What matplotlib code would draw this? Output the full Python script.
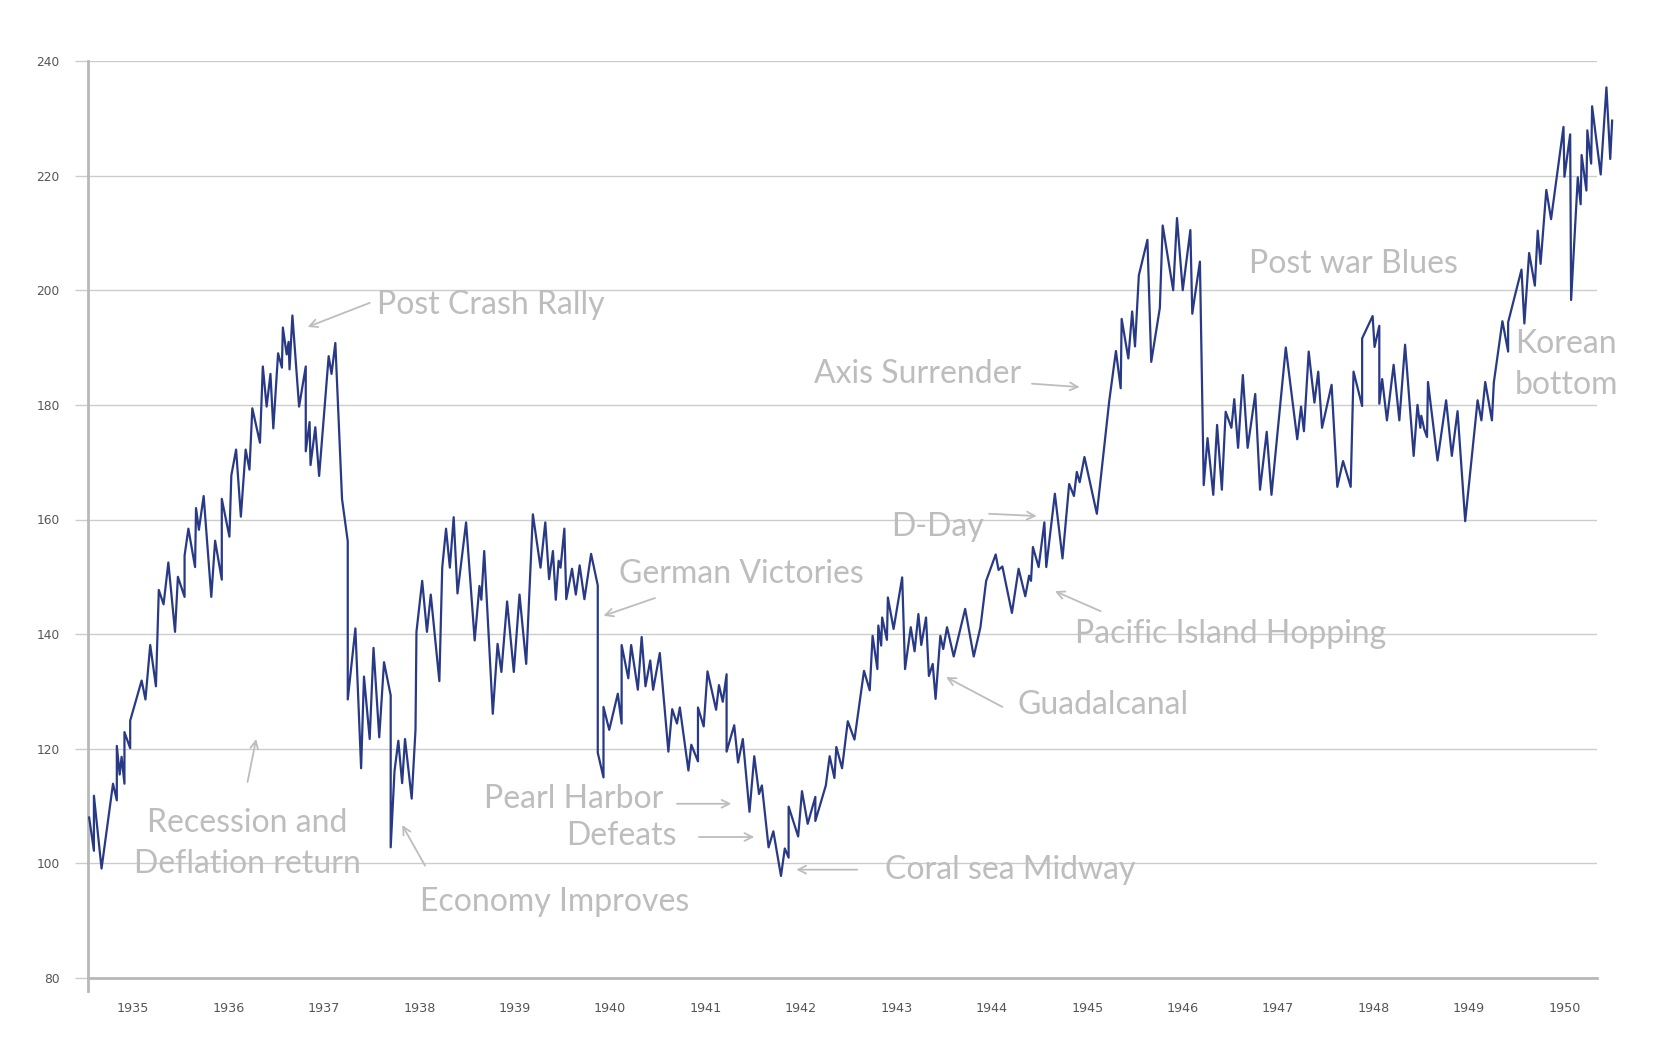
import matplotlib
matplotlib.use("Agg")
import matplotlib.pyplot as plt

# index level (fractional year, value)
dates = [
    1934.54, 1934.59, 1934.59, 1934.67, 1934.79, 1934.83, 1934.83, 1934.86, 1934.88, 1934.91,
    1934.91, 1934.97, 1934.97, 1935.09, 1935.13, 1935.18, 1935.24, 1935.27, 1935.32, 1935.37,
    1935.44, 1935.47, 1935.54, 1935.54, 1935.58, 1935.65, 1935.66, 1935.69, 1935.74, 1935.82,
    1935.86, 1935.93, 1935.93, 1936.01, 1936.03, 1936.08, 1936.13, 1936.18, 1936.22, 1936.25,
    1936.33, 1936.36, 1936.40, 1936.44, 1936.47, 1936.52, 1936.56, 1936.57, 1936.61, 1936.63,
    1936.64, 1936.67, 1936.74, 1936.81, 1936.81, 1936.85, 1936.86, 1936.91, 1936.95, 1937.05,
    1937.08, 1937.12, 1937.19, 1937.25, 1937.25, 1937.33, 1937.39, 1937.42, 1937.48, 1937.52,
    1937.58, 1937.63, 1937.70, 1937.70, 1937.74, 1937.78, 1937.82, 1937.85, 1937.92, 1937.96,
    1937.97, 1938.03, 1938.08, 1938.12, 1938.21, 1938.24, 1938.28, 1938.32, 1938.36, 1938.40,
    1938.49, 1938.58, 1938.63, 1938.65, 1938.68, 1938.77, 1938.82, 1938.86, 1938.92, 1938.99,
    1939.05, 1939.12, 1939.19, 1939.27, 1939.32, 1939.36, 1939.40, 1939.43, 1939.46, 1939.48,
    1939.52, 1939.54, 1939.60, 1939.64, 1939.68, 1939.73, 1939.80, 1939.87, 1939.87, 1939.93,
    1939.93, 1939.99, 1940.08, 1940.12, 1940.12, 1940.19, 1940.22, 1940.29, 1940.33, 1940.37,
    1940.42, 1940.45, 1940.52, 1940.61, 1940.65, 1940.70, 1940.73, 1940.82, 1940.85, 1940.92,
    1940.92, 1940.98, 1941.02, 1941.11, 1941.14, 1941.18, 1941.22, 1941.22, 1941.30, 1941.34,
    1941.39, 1941.46, 1941.51, 1941.56, 1941.59, 1941.66, 1941.71, 1941.79, 1941.83, 1941.87,
    1941.87, 1941.97, 1942.01, 1942.07, 1942.15, 1942.15, 1942.26, 1942.30, 1942.35, 1942.37,
    1942.43, 1942.49, 1942.56, 1942.66, 1942.72, 1942.75, 1942.80, 1942.81, 1942.84, 1942.85,
    1942.90, 1942.91, 1942.97, 1943.06, 1943.09, 1943.15, 1943.19, 1943.23, 1943.26, 1943.31,
    1943.34, 1943.38, 1943.41, 1943.46, 1943.49, 1943.53, 1943.60, 1943.72, 1943.81, 1943.88,
    1943.94, 1944.04, 1944.07, 1944.11, 1944.21, 1944.28, 1944.35, 1944.39, 1944.41, 1944.43,
    1944.49, 1944.55, 1944.57, 1944.66, 1944.74, 1944.81, 1944.86, 1944.89, 1944.92, 1944.97,
    1945.10, 1945.23, 1945.30, 1945.35, 1945.36, 1945.43, 1945.47, 1945.50, 1945.54, 1945.63,
    1945.67, 1945.76, 1945.79, 1945.90, 1945.94, 1946.00, 1946.08, 1946.10, 1946.18, 1946.22,
    1946.26, 1946.32, 1946.36, 1946.41, 1946.45, 1946.51, 1946.54, 1946.58, 1946.63, 1946.68,
    1946.76, 1946.81, 1946.88, 1946.93, 1947.08, 1947.20, 1947.24, 1947.27, 1947.32, 1947.38,
    1947.42, 1947.46, 1947.56, 1947.62, 1947.68, 1947.76, 1947.79, 1947.88, 1947.88, 1947.99,
    1948.01, 1948.06, 1948.06, 1948.09, 1948.14, 1948.21, 1948.27, 1948.33, 1948.42, 1948.46,
    1948.49, 1948.50, 1948.53, 1948.56, 1948.57, 1948.67, 1948.76, 1948.82, 1948.88, 1948.96,
    1949.09, 1949.13, 1949.17, 1949.24, 1949.26, 1949.35, 1949.41, 1949.41, 1949.55, 1949.58,
    1949.63, 1949.69, 1949.72, 1949.75, 1949.81, 1949.86, 1949.99, 1950.00, 1950.06, 1950.07,
    1950.14, 1950.17, 1950.18, 1950.23, 1950.24, 1950.28, 1950.29, 1950.38, 1950.44, 1950.48,
    1950.50,
]
values = [
    108.0, 102.2, 111.8, 99.1, 113.9, 111.0, 120.5, 115.5, 118.6, 113.9,
    122.9, 120.1, 124.9, 131.9, 128.6, 138.1, 130.9, 147.7, 145.2, 152.5,
    140.4, 150.0, 146.5, 153.7, 158.4, 151.7, 162.0, 158.2, 164.1, 146.5,
    156.3, 149.5, 163.6, 157.0, 167.7, 172.2, 160.5, 172.2, 168.7, 179.4,
    173.4, 186.7, 179.7, 185.4, 175.9, 189.0, 186.5, 193.5, 188.8, 191.0,
    186.2, 195.6, 179.7, 186.7, 171.9, 177.0, 169.5, 176.1, 167.6, 188.5,
    185.4, 190.8, 163.6, 156.2, 128.6, 141.0, 116.6, 132.6, 121.7, 137.6,
    122.0, 135.1, 129.3, 102.8, 116.1, 121.4, 114.0, 121.7, 111.3, 123.3,
    140.4, 149.3, 140.4, 146.9, 131.8, 151.6, 158.4, 151.6, 160.4, 147.1,
    159.5, 138.9, 148.4, 146.0, 154.5, 126.1, 138.3, 133.4, 145.7, 133.4,
    146.9, 134.8, 160.9, 151.6, 159.5, 149.6, 154.5, 146.0, 152.8, 151.6,
    158.4, 146.1, 151.4, 146.9, 152.0, 146.1, 154.0, 148.5, 119.3, 115.0,
    127.3, 123.3, 129.6, 124.4, 138.1, 132.3, 138.1, 130.3, 139.5, 130.9,
    135.4, 130.3, 136.7, 119.5, 126.9, 124.4, 127.2, 116.2, 120.7, 117.8,
    127.2, 123.9, 133.5, 126.8, 131.1, 128.2, 133.0, 119.5, 124.1, 117.6,
    121.7, 109.0, 118.7, 112.1, 113.6, 102.8, 105.6, 97.8, 102.6, 101.0,
    109.9, 104.7, 112.6, 106.9, 111.6, 107.4, 113.6, 118.7, 114.9, 120.3,
    116.6, 124.8, 121.6, 133.6, 130.2, 139.7, 133.9, 141.5, 138.0, 142.9,
    139.0, 146.4, 140.9, 149.9, 133.9, 141.2, 137.0, 143.5, 138.1, 142.9,
    132.7, 134.8, 128.7, 139.7, 137.4, 141.2, 136.1, 144.4, 136.1, 141.2,
    149.3, 153.9, 151.2, 151.8, 143.7, 151.4, 146.6, 150.2, 149.3, 155.2,
    151.7, 159.5, 151.7, 164.5, 153.2, 166.2, 164.1, 168.3, 166.5, 170.9,
    161.0, 180.7, 189.4, 182.9, 195.0, 188.1, 196.3, 190.2, 202.6, 208.8,
    187.5, 196.9, 211.3, 200.0, 212.6, 200.0, 210.5, 195.9, 205.0, 166.0,
    174.2, 164.3, 176.5, 165.2, 178.8, 176.0, 181.0, 172.5, 185.2, 172.5,
    181.9, 165.2, 175.3, 164.3, 190.0, 174.0, 179.7, 175.4, 189.3, 180.4,
    185.8, 176.0, 183.5, 165.7, 170.2, 165.7, 185.8, 179.8, 191.6, 195.5,
    190.1, 193.8, 180.2, 184.5, 177.3, 187.0, 177.3, 190.5, 171.1, 180.0,
    176.0, 178.1, 175.8, 174.4, 184.0, 170.3, 180.8, 171.1, 178.9, 159.7,
    180.8, 177.3, 184.0, 177.3, 183.9, 194.6, 189.3, 194.4, 203.6, 194.2,
    206.5, 200.8, 210.4, 204.6, 217.5, 212.4, 228.5, 219.8, 227.2, 198.3,
    219.7, 215.0, 223.6, 217.4, 227.9, 222.1, 232.1, 220.2, 235.4, 222.9,
    229.6,
]
year_ticks = list(range(1935, 1951))
value_ticks = list(range(80, 241, 20))

# (text, x, y, ha, arrow_from, arrow_to)
notes = [
    ("Post Crash Rally", 1937.56, 197.4, "left", (1937.48, 197.8), (1936.83, 193.6)),
    ("Recession and\nDeflation return", 1936.20, 103.5, "center", (1936.20, 114.2), (1936.29, 121.7)),
    ("Economy Improves", 1938.01, 93.3, "left", (1938.06, 99.6), (1937.82, 106.7)),
    ("German Victories", 1940.09, 150.5, "left", (1940.47, 146.3), (1939.93, 143.2)),
    ("Pearl Harbor", 1940.56, 111.2, "right", (1940.70, 110.4), (1941.27, 110.4)),
    ("Defeats", 1940.70, 104.8, "right", (1940.93, 104.6), (1941.51, 104.6)),
    ("Coral sea Midway", 1942.88, 98.9, "left", (1942.59, 98.9), (1941.95, 98.9)),
    ("Guadalcanal", 1944.27, 127.6, "left", (1944.11, 127.3), (1943.52, 132.5)),
    ("Pacific Island Hopping", 1944.87, 140.0, "left", (1945.14, 144.0), (1944.66, 147.5)),
    ("D-Day", 1942.94, 158.7, "left", (1943.97, 161.0), (1944.47, 160.6)),
    ("Axis Surrender", 1942.14, 185.4, "left", (1944.42, 183.7), (1944.92, 183.1)),
    ("Post war Blues", 1946.69, 204.6, "left", None, None),
    ("Korean\nbottom", 1949.48, 187.0, "left", None, None),
]

line_color = "#283a85"
note_color = "#bdbdbd"
grid_color = "#cccccc"

fig = plt.figure(figsize=(16.8, 10.51), dpi=100)
ax = fig.add_axes([88 / 1680, 1 - 978 / 1051, 1508.5 / 1680, 917 / 1051])

ax.plot(dates, values, color=line_color, linewidth=1.6, clip_on=False, zorder=3)

ax.set_xlim(1934.528, 1950.336)
ax.set_ylim(80, 240)
ax.set_yticks(value_ticks)
ax.set_xticks(year_ticks)
ax.grid(axis="y", color=grid_color, linewidth=1.0)
ax.tick_params(axis="y", length=9.4, width=1.0, color=grid_color, pad=11,
               labelsize=8.8, labelcolor="#555555")
ax.tick_params(axis="x", length=0, pad=17, labelsize=9.2, labelcolor="#555555")

for side in ["top", "right"]:
    ax.spines[side].set_visible(False)
ax.spines["bottom"].set_color("#b8b8b8")
ax.spines["bottom"].set_linewidth(2)
ax.spines["left"].set_color("#b8b8b8")
ax.spines["left"].set_linewidth(2)
# left axis runs a little below the bottom line
ax.plot([0, 0], [-0.014, 0], transform=ax.transAxes, color="#b8b8b8",
        linewidth=2, clip_on=False)

for text, x, y, ha, a_from, a_to in notes:
    ax.text(x, y, text, ha=ha, va="center", fontsize=23, color=note_color,
            family="Lato", linespacing=1.47, zorder=2)
    if a_from is not None:
        ax.annotate("", xy=a_to, xytext=a_from,
                    arrowprops=dict(arrowstyle="->", color=note_color, lw=1.3,
                                    mutation_scale=14, shrinkA=0, shrinkB=0))

fig.savefig("out.png", dpi=100)
